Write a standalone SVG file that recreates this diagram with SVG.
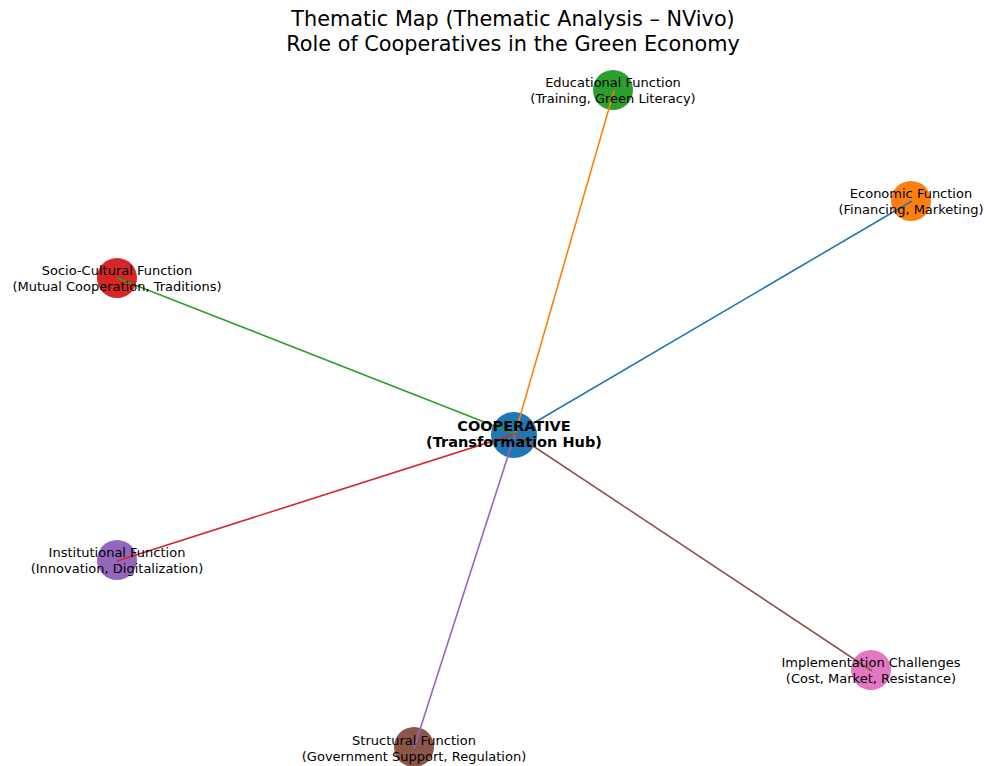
<svg xmlns="http://www.w3.org/2000/svg" width="987" height="766" viewBox="0 0 987 766">
<style>
text{font-family:"DejaVu Sans","Liberation Sans",sans-serif;fill:#000;text-anchor:middle}
.t{font-size:20.8px}
.l{font-size:13px}
.b{font-weight:bold;font-size:14.5px}
.e{stroke-width:1.6;fill:none}
</style>
<rect width="987" height="766" fill="#fff"/>
<g id="title">
<text class="t" x="513" y="26">Thematic Map (Thematic Analysis – NVivo)</text>
<text class="t" x="513" y="51">Role of Cooperatives in the Green Economy</text>
</g>
<g id="node-circles">
<circle id="c-center" cx="514" cy="435" r="23" fill="#1f77b4"/>
<circle id="c-edu" cx="613" cy="90" r="20" fill="#2ca02c"/>
<circle id="c-eco" cx="911" cy="201" r="20" fill="#ff7f0e"/>
<circle id="c-soc" cx="117" cy="278" r="20" fill="#d62728"/>
<circle id="c-ins" cx="117" cy="560" r="20" fill="#9467bd"/>
<circle id="c-imp" cx="871" cy="670" r="20" fill="#e377c2"/>
<circle id="c-str" cx="414" cy="747" r="20" fill="#8c564b"/>
</g>
<g id="connectors">
<line class="e" x1="515" y1="434" x2="614" y2="91" stroke="#ff7f0e"/>
<line class="e" x1="515" y1="434" x2="912" y2="201" stroke="#1f77b4"/>
<line class="e" x1="515" y1="434" x2="117" y2="278" stroke="#2ca02c"/>
<line class="e" x1="515" y1="434" x2="117" y2="561" stroke="#d62728"/>
<line class="e" x1="515" y1="434" x2="414" y2="748" stroke="#9467bd"/>
<line class="e" x1="515" y1="434" x2="872" y2="671" stroke="#8c564b"/>
</g>
<g id="node-center">
<text class="l b" x="514" y="431">COOPERATIVE</text>
<text class="l b" x="514" y="447">(Transformation Hub)</text>
</g>
<g id="node-educational">
<text class="l" x="613" y="87">Educational Function</text>
<text class="l" x="613" y="103">(Training, Green Literacy)</text>
</g>
<g id="node-economic">
<text class="l" x="911" y="198">Economic Function</text>
<text class="l" x="911" y="214">(Financing, Marketing)</text>
</g>
<g id="node-sociocultural">
<text class="l" x="117" y="275">Socio-Cultural Function</text>
<text class="l" x="117" y="291">(Mutual Cooperation, Traditions)</text>
</g>
<g id="node-institutional">
<text class="l" x="117" y="557">Institutional Function</text>
<text class="l" x="117" y="573">(Innovation, Digitalization)</text>
</g>
<g id="node-implementation">
<text class="l" x="871" y="667">Implementation Challenges</text>
<text class="l" x="871" y="683">(Cost, Market, Resistance)</text>
</g>
<g id="node-structural">
<text class="l" x="414" y="745">Structural Function</text>
<text class="l" x="414" y="761">(Government Support, Regulation)</text>
</g>
</svg>
